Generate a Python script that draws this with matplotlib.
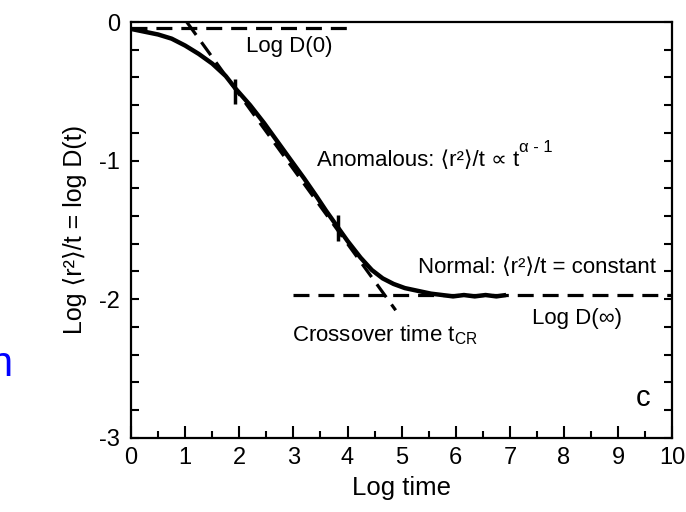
import matplotlib
matplotlib.use('Agg')
from matplotlib import pyplot as plt
from matplotlib.ticker import MultipleLocator

plt.rcParams['font.family'] = ['Liberation Sans', 'DejaVu Sans']
plt.rcParams['mathtext.fontset'] = 'custom'
plt.rcParams['mathtext.rm'] = 'Liberation Sans'
plt.rcParams['mathtext.it'] = 'Liberation Sans:italic'
plt.rcParams['axes.unicode_minus'] = False

# curve (log time, log D(t))
log_t = [0.0, 0.25, 0.5, 0.75, 1.0, 1.25, 1.5, 1.75, 1.93, 2.2, 2.46, 2.7, 2.94,
         3.2, 3.43, 3.6, 3.8, 4.0, 4.24, 4.45, 4.65, 4.85, 5.06, 5.3, 5.54,
         5.75, 5.95, 6.15, 6.35, 6.55, 6.75, 6.93]
log_D = [-0.05, -0.07, -0.09, -0.12, -0.17, -0.23, -0.30, -0.39, -0.48, -0.60, -0.73,
         -0.86, -0.99, -1.13, -1.26, -1.36, -1.47, -1.58, -1.70, -1.79, -1.85, -1.89,
         -1.92, -1.94, -1.96, -1.97, -1.98, -1.97, -1.98, -1.97, -1.98, -1.97]

# dashed guide lines
d0_x = [0.0, 4.0]
d0_y = [-0.04, -0.04]
dinf_x = [3.0, 10.0]
dinf_y = [-1.97, -1.97]
anom_x = [1.03, 4.89]
anom_y = [0.0, -2.08]

# crossover marks on the curve
mark_x = [1.93, 3.82]
mark_lo = [-0.59, -1.58]
mark_hi = [-0.41, -1.39]

fig = plt.figure(figsize=(6.86, 5.12), dpi=100)
ax = fig.add_axes([0.191, 0.145, 0.789, 0.812])

ax.plot(log_t, log_D, color='black', lw=3.2, solid_capstyle='butt')
dash = dict(color='black', lw=2.3, dashes=(5, 2.8))
ax.plot(d0_x, d0_y, **dash)
ax.plot(dinf_x, dinf_y, **dash)
ax.plot(anom_x, anom_y, **dash)
ax.vlines(mark_x, mark_lo, mark_hi, color='black', lw=2.5)

ax.set_xlim(0, 10)
ax.set_ylim(-3, 0)
ax.xaxis.set_major_locator(MultipleLocator(1))
ax.xaxis.set_minor_locator(MultipleLocator(0.5))
ax.yaxis.set_major_locator(MultipleLocator(1))
ax.yaxis.set_minor_locator(MultipleLocator(0.2))
ax.tick_params(axis='x', which='both', direction='in', top=False, width=1.5, labelsize=17, pad=7)
ax.tick_params(axis='x', which='major', length=9)
ax.tick_params(axis='x', which='minor', length=5)
ax.tick_params(axis='y', which='both', direction='in', left=True, right=True, width=1.5,
               length=6, labelsize=17, pad=8)
for s in ax.spines.values():
    s.set_linewidth(1.6)

ax.set_xlabel('Log time', fontsize=18.5, labelpad=5)
ax.set_ylabel('Log ⟨r²⟩/t = log D(t)', fontsize=18, labelpad=9)

fs = 16
anom = ax.text(3.43, -1.0, 'Anomalous: ⟨r²⟩/t ∝ t', fontsize=fs, va='center')
ax.annotate('α - 1', xy=(1.0, 0.75), xycoords=anom, ha='left', va='bottom', fontsize=12)
ax.text(2.13, -0.18, 'Log D(0)', fontsize=fs, va='center')
ax.text(5.3, -1.77, 'Normal: ⟨r²⟩/t = constant', fontsize=fs, va='center')
ax.text(7.41, -2.14, 'Log D(∞)', fontsize=fs, va='center')
ax.text(2.98, -2.26, r'Crossover time t$_{\mathrm{CR}}$', fontsize=fs, va='center')
ax.text(9.33, -2.71, 'c', fontsize=21, va='center')

fig.text(0.018, 0.287, 'n', color='blue', fontsize=30, ha='right', va='center')

plt.savefig('out.png')
